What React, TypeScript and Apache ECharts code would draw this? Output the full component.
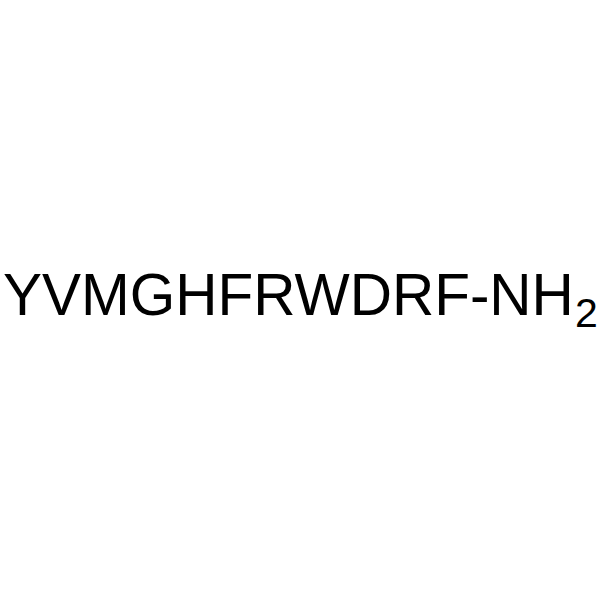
import React, { useEffect, useRef } from "react";
import * as echarts from "echarts";

// label parts: main sequence and the subscript
const mainLabel = "YVMGHFRWDRF-NH";
const subLabel = "2";

const App: React.FC = () => {
  const chartRef = useRef<HTMLDivElement | null>(null);

  useEffect(() => {
    document.body.style.margin = "0";
    if (!chartRef.current) return;
    const chart = echarts.init(chartRef.current, undefined, { renderer: "svg" });

    const font = "'Liberation Sans', Arial, sans-serif";
    const option = {
      animation: false,
      backgroundColor: "#ffffff",
      graphic: [
        {
          type: "text",
          x: 3,
          y: 294.7,
          style: {
            text: mainLabel,
            fontFamily: font,
            fontSize: 58.5,
            fill: "#000000",
            align: "left",
            verticalAlign: "middle",
          },
        },
        {
          type: "text",
          x: 575,
          y: 312.8,
          style: {
            text: subLabel,
            fontFamily: font,
            fontSize: 41,
            fill: "#000000",
            align: "left",
            verticalAlign: "middle",
          },
        },
      ],
    };

    chart.setOption(option);
    return () => {
      chart.dispose();
    };
  }, []);

  return (
    <div
      ref={chartRef}
      style={{ position: "fixed", left: 0, top: 0, width: 600, height: 600 }}
    />
  );
};

export default App;
